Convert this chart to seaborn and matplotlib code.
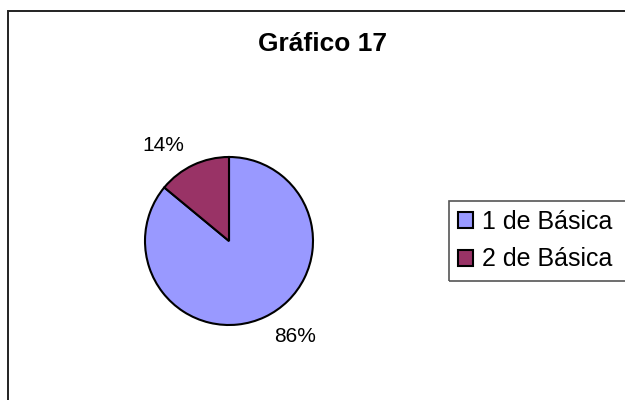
import numpy as np
import matplotlib
matplotlib.use('Agg')
import matplotlib.pyplot as plt
import seaborn as sns
from matplotlib.patches import Patch, Rectangle

# Data
categories = ['1 de Básica', '2 de Básica']
percent = [86, 14]
slice_colors = ['#9999FF', '#993366']
title = 'Gráfico 17'

sns.set_theme(style='white')
plt.rcParams['font.family'] = ['Liberation Sans', 'DejaVu Sans']
plt.rcParams['text.color'] = 'black'

W, H = 625, 400
fig = plt.figure(figsize=(W / 100, H / 100), dpi=100)

# outer chart frame (runs off the right and bottom edges like the original)
fig.patches.append(Rectangle((8 / W, -0.05), 1.1, 1 - 11 / H + 0.05,
                             transform=fig.transFigure, fill=False,
                             edgecolor='#222222', linewidth=1.4))

fig.text(322 / W, 1 - 44 / H, title, ha='center', va='center',
         fontsize=19, fontweight='bold', color='black')

# pie: center (229, 241) px, radius 84 px
cx, cy, r = 229, 241, 84
ax = fig.add_axes([(cx - r) / W, 1 - (cy + r) / H, 2 * r / W, 2 * r / H])
wedges, _ = ax.pie(percent, colors=slice_colors, startangle=90, counterclock=False,
                   radius=1.0, wedgeprops=dict(edgecolor='black', linewidth=1.5))
ax.set_xlim(-1, 1)
ax.set_ylim(-1, 1)
ax.set_aspect('equal')
ax.axis('off')

for w, p in zip(wedges, percent):
    mid = np.deg2rad((w.theta1 + w.theta2) / 2)
    x, y = 1.25 * np.cos(mid), 1.25 * np.sin(mid)
    ax.text(x, y, f'{p}%', ha='left' if x > 0 else 'right', va='center',
            fontsize=15, color='black', clip_on=False)

# legend box also runs off the right edge in the original
fig.patches.append(Rectangle((449 / W, 1 - 281 / H), 0.5, 80 / H,
                             transform=fig.transFigure, fill=False,
                             edgecolor='#555555', linewidth=1.2))
handles = [Patch(facecolor=c, edgecolor='black', linewidth=1.5) for c in slice_colors]
leg = fig.legend(handles, categories, loc='upper left',
                 bbox_to_anchor=(449 / W, 1 - 201 / H), fontsize=18,
                 frameon=False,
                 handlelength=0.6, handleheight=0.6, handletextpad=0.35,
                 labelspacing=0.55, borderpad=0.35, borderaxespad=0)
for t in leg.get_texts():
    t.set_color('black')

fig.savefig('out.png', dpi=100, facecolor='white')
